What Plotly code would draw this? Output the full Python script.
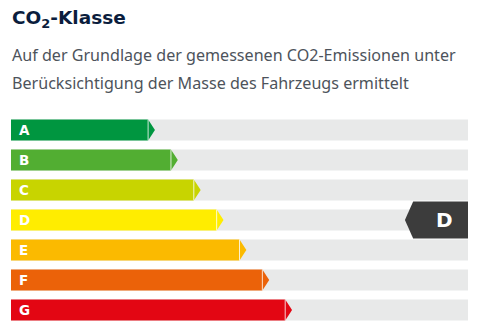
import plotly.graph_objects as go

# ---- data ----
classes = ["A", "B", "C", "D", "E", "F", "G"]
bar_values = [31.5, 36.5, 41.5, 46.5, 51.5, 56.5, 61.5]   # length of each class arrow (track = 100)
bar_colors = ["#009640", "#52ae32", "#c8d400", "#ffed00", "#fbba00", "#eb6209", "#e30613"]
selected_class = "D"
title_text = "CO<sub>2</sub>-Klasse"
subtitle_lines = [
    "Auf der Grundlage der gemessenen CO2-Emissionen unter",
    "Berücksichtigung der Masse des Fahrzeugs ermittelt",
]

# ---- geometry / style ----
W, H = 485, 332
ML, MR, MT, MB = 11, 17, 115, 7
TRACK_MAX = 100
HALF = 0.35          # half bar height in y units (1 unit = 30px)
TIP = 1.5            # arrow tip length in x units
TRACK_COLOR = "#e8e9e9"
IND_COLOR = "#3c3c3c"
FONT = "Noto Sans"
BOLD_FONT = "DejaVu Sans"

fig = go.Figure()

for i, (c, v, col) in enumerate(zip(classes, bar_values, bar_colors)):
    # gray track
    fig.add_trace(go.Scatter(
        x=[0, TRACK_MAX, TRACK_MAX, 0, 0],
        y=[i - HALF, i - HALF, i + HALF, i + HALF, i - HALF],
        fill="toself", fillcolor=TRACK_COLOR, mode="none",
        hoverinfo="skip", showlegend=False))
    # coloured arrow
    fig.add_trace(go.Scatter(
        x=[0, v - TIP, v, v - TIP, 0, 0],
        y=[i - HALF, i - HALF, i, i + HALF, i + HALF, i - HALF],
        fill="toself", fillcolor=col, mode="none",
        hoverinfo="skip", showlegend=False))
    # thin white separator before the tip
    fig.add_trace(go.Scatter(
        x=[v - TIP, v - TIP], y=[i - HALF, i + HALF],
        mode="lines", line=dict(color="rgba(255,255,255,0.8)", width=1),
        hoverinfo="skip", showlegend=False))
    fig.add_annotation(x=0, y=i, xref="x", yref="y", text=f"<b>{c}</b>",
                       showarrow=False, xanchor="left", yanchor="middle", xshift=6,
                       font=dict(family=BOLD_FONT, size=13.5, color="white"))

# indicator for selected class
si = classes.index(selected_class)
IH = 0.62
x_apex, x_top = 86.2, 88.0
fig.add_trace(go.Scatter(
    x=[x_top, TRACK_MAX, TRACK_MAX, x_top, x_apex, x_top],
    y=[si - IH, si - IH, si + IH, si + IH, si, si - IH],
    fill="toself", fillcolor=IND_COLOR, mode="none",
    hoverinfo="skip", showlegend=False))
fig.add_annotation(x=94.9, y=si, xref="x", yref="y", text=f"<b>{selected_class}</b>",
                   showarrow=False, xanchor="center", yanchor="middle",
                   font=dict(family=BOLD_FONT, size=20, color="white"))

# title & subtitle (paper coords derived from pixel layout)
ph = H - MT - MB
def py(p):
    return (H - MB - p) / ph

fig.add_annotation(x=0, y=py(19), xref="paper", yref="paper", text=f"<b>{title_text}</b>",
                   showarrow=False, xanchor="left", yanchor="middle", xshift=-1,
                   font=dict(family=BOLD_FONT, size=18.5, color="#0b1d3d"))
for k, line in enumerate(subtitle_lines):
    fig.add_annotation(x=0, y=py(55 + 28 * k), xref="paper", yref="paper", text=line,
                       showarrow=False, xanchor="left", yanchor="middle", xshift=-1,
                       font=dict(family=FONT, size=16.1, color="#4d535b"))

fig.update_xaxes(range=[0, TRACK_MAX], visible=False, fixedrange=True)
fig.update_yaxes(range=[len(classes) - 0.5, -0.5], visible=False, fixedrange=True)
fig.update_layout(width=W, height=H, margin=dict(l=ML, r=MR, t=MT, b=MB),
                  plot_bgcolor="white", paper_bgcolor="white")

fig.write_html("out.html", config={"displayModeBar": False})
